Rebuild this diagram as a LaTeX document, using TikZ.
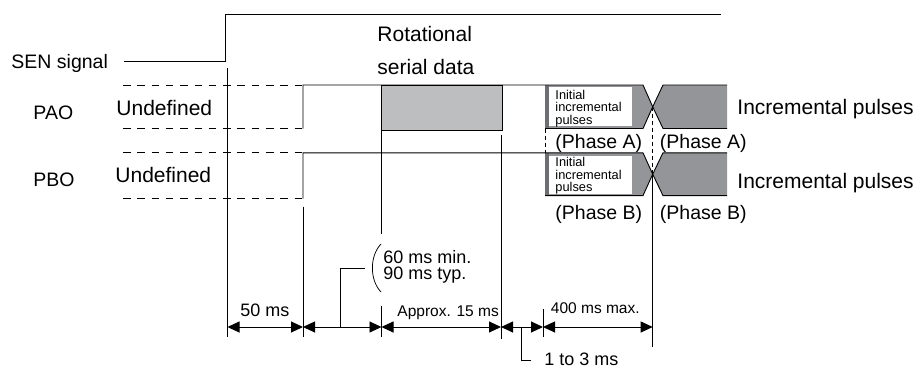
\documentclass[tikz,border=0pt]{standalone}
\usepackage{fontspec}
\setmainfont{Liberation Sans}
\usetikzlibrary{arrows.meta}
\definecolor{boxgray}{HTML}{BCBEC0}
\definecolor{incgray}{HTML}{939598}
\definecolor{stripegray}{HTML}{6D6E71}
\begin{document}
\begin{tikzpicture}[x=1pt,y=-1pt,line width=0.9pt,
  lbl/.style={inner sep=0pt,anchor=base west},
  fbig/.style={font=\fontsize{19.5}{22}\selectfont},
  fund/.style={font=\fontsize{21}{24}\selectfont},
  fmid/.style={font=\fontsize{18}{20}\selectfont},
  fsm/.style={font=\fontsize{15.5}{18}\selectfont},
  ftiny/.style={font=\fontsize{12.8}{14}\selectfont},
  undef/.style={dash pattern=on 7.5pt off 6.8pt},
  fine/.style={line width=0.8pt,dash pattern=on 4pt off 3pt},
  dim/.style={{Triangle[length=12pt,width=11pt]}-{Triangle[length=12pt,width=11pt]}}]
\useasboundingbox (0,0) rectangle (918,369);

% ---- SEN signal
\node[lbl,fbig] (sen) at (11,68) {SEN signal};
\coordinate (s0) at (124,61);
\coordinate (s1) at (225.5,61);
\coordinate (s2) at (225.5,14.5);
\coordinate (s3) at (721,14.5);
\draw (s0) -- (s1) -- (s2) -- (s3);

% ---- labels left
\node[lbl,fbig] (pao) at (33,119.3) {PAO};
\node[lbl,fund] (undA) at (116,115.7) {Undefined};
\node[lbl,fbig] (pbo) at (33,186.7) {PBO};
\node[lbl,fund] (undB) at (115,182.3) {Undefined};

% ---- Rotational serial data
\node[lbl,fund] (rot1) at (377,41.7) {Rotational};
\node[lbl,fund] (rot2) at (377,74.5) {serial data};

% ---- gray fills (incremental shapes)
\fill[incgray] (545,85) -- (643,85) -- (652.7,106.8) -- (643,128.5) -- (545,128.5) -- cycle;
\fill[incgray] (727,85) -- (663,85) -- (652.7,106.8) -- (663,128.5) -- (727,128.5) -- cycle;
\fill[incgray] (545,152.8) -- (643,152.8) -- (652.7,174.2) -- (643,195.6) -- (545,195.6) -- cycle;
\fill[incgray] (727,152.8) -- (663,152.8) -- (652.7,174.2) -- (663,195.6) -- (727,195.6) -- cycle;
\fill[stripegray] (545,85) rectangle (549,128.5);
\fill[stripegray] (545,152.8) rectangle (549,195.6);
\fill[white] (549,87.3) rectangle (631.5,126.3);
\fill[white] (549,156) rectangle (631.5,193.8);

% ---- PAO
\draw[undef] (123,85) -- (303,85);
\draw[undef] (123,128.5) -- (303,128.5);
\draw (303,128.5) -- (303,85) -- (643,85) -- (652.7,106.8) -- (643,128.5) -- (545,128.5);
\draw (727,85) -- (663,85) -- (652.7,106.8) -- (663,128.5) -- (727,128.5);
\draw[fill=boxgray] (381.5,85) rectangle (502.5,130);

% ---- PBO
\draw[undef] (123,152.8) -- (303,152.8);
\draw[undef] (123,198.5) -- (303,198.5);
\draw (303,198.5) -- (303,152.8) -- (643,152.8) -- (652.7,174.2) -- (643,195.6) -- (545,195.6);
\draw (727,152.8) -- (663,152.8) -- (652.7,174.2) -- (663,195.6) -- (727,195.6);

% ---- initial incremental pulses texts
\node[lbl,ftiny] (ia1) at (555,99.3) {Initial};
\node[lbl,ftiny] (ia2) at (555,111.8) {incremental};
\node[lbl,ftiny] (ia3) at (555,124.3) {pulses};
\node[lbl,ftiny] (ib1) at (555,166.7) {Initial};
\node[lbl,ftiny] (ib2) at (555,179) {incremental};
\node[lbl,ftiny] (ib3) at (555,191.3) {pulses};

% ---- phase labels
\node[lbl,fbig] (pa1) at (555,148.5) {(Phase A)};
\node[lbl,fbig] (pa2) at (659.5,148.5) {(Phase A)};
\node[lbl,fbig] (pb1) at (555,219) {(Phase B)};
\node[lbl,fbig] (pb2) at (659.5,219) {(Phase B)};
\node[lbl,fund] (incA) at (737,114) {Incremental pulses};
\node[lbl,fund] (incB) at (737,188) {Incremental pulses};

% ---- vertical reference lines
\draw (227.5,68) -- (227.5,337);
\draw (303,206.5) -- (303,337);
\draw (381.5,130) -- (381.5,234);
\draw (381.5,306) -- (381.5,337);
\draw (501,135) -- (501,339);
\draw (543,309) -- (543,337);
\draw[fine] (545,128.5) -- (545,152.8);
\draw[fine] (652.7,106.8) -- (652.7,174.2);
\draw (652.7,174.2) -- (652.7,347);

% ---- dimension arrows
\coordinate (d0) at (227.5,327);
\coordinate (d1) at (303,327);
\coordinate (d2) at (381.5,327);
\coordinate (d3) at (501,327);
\coordinate (d4) at (543,327);
\coordinate (d5) at (652.7,327);
\draw[dim] (d0) -- (d1);
\draw[dim] (d1) -- (d2);
\draw[dim] (d2) -- (d3);
\draw[dim] (d3) -- (d4);
\draw[dim] (d4) -- (d5);

\node[lbl,fmid] (t50) at (240,316) {50 ms};
\node[lbl,fsm] (t15) at (397,316) {Approx. 15 ms};
\node[lbl,fsm] (t400) at (550.5,313.5) {400 ms max.};

% 60/90 ms leader
\coordinate (l0) at (340.7,327);
\coordinate (l1) at (340.7,268.5);
\coordinate (l2) at (365,268.5);
\draw (l0) -- (l1) -- (l2);
\draw[line width=0.75pt] (381,244) .. controls (369.5,256) and (369.5,280) .. (381,292);
\node[lbl,fmid] (t60) at (383,263) {60 ms min.};
\node[lbl,fmid] (t90) at (383,279.5) {90 ms typ.};

% 1 to 3 ms leader
\coordinate (m0) at (521.5,327);
\coordinate (m1) at (521.5,360);
\coordinate (m2) at (531,360);
\draw (m0) -- (m1) -- (m2);
\node[lbl,fmid] (t13) at (544,365) {1 to 3 ms};
\end{tikzpicture}
\end{document}
